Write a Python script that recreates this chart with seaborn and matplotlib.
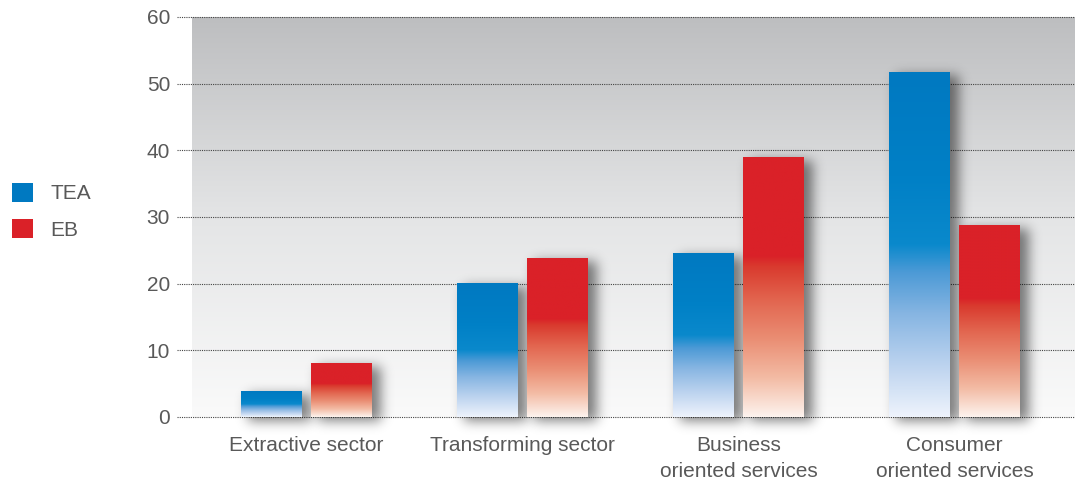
import math
import numpy as np
import pandas as pd
import seaborn as sns
import matplotlib.pyplot as plt
from matplotlib.colors import LinearSegmentedColormap
from matplotlib.patches import Patch

sns.set_theme(style="white")
plt.rcParams['font.family'] = ['Liberation Sans', 'DejaVu Sans']

# datos
sectors = ["Extractive sector", "Transforming sector",
           "Business\noriented services", "Consumer\noriented services"]
tea = [3.8, 20.0, 24.5, 51.7]
eb = [8.0, 23.8, 38.9, 28.7]
series = ["TEA", "EB"]

df = pd.DataFrame({
    "sector": sectors * 2,
    "serie": ["TEA"] * 4 + ["EB"] * 4,
    "valor": tea + eb,
})

txt = "#595959"
blue = "#0079c1"
red = "#da2128"

cmap_tea = LinearSegmentedColormap.from_list("tea", [
    (0.0, "#eef3fc"), (0.15, "#bcd3ef"), (0.3, "#86b5e2"),
    (0.42, "#4c9ad6"), (0.5, "#0a89cc"), (0.7, "#0080c6"), (1.0, blue)])
cmap_eb = LinearSegmentedColormap.from_list("eb", [
    (0.0, "#fdf3ee"), (0.15, "#f3bba4"), (0.3, "#ea8e74"),
    (0.45, "#e2654f"), (0.58, "#d93a2e"), (0.62, red), (1.0, red)])

fig = plt.figure(figsize=(10.75, 4.82), dpi=100)
ax = fig.add_axes([177 / 1075, 1 - 417 / 482, 898 / 1075, 400 / 482])

sns.barplot(data=df, x="sector", y="valor", hue="serie", order=sectors,
            hue_order=series, palette=[blue, red], width=0.655, gap=0.14,
            legend=False, ax=ax)

x0, x1 = -0.5995, 3.558

# fondo degradado
bg = np.linspace(0, 1, 256).reshape(-1, 1)
bg_cmap = LinearSegmentedColormap.from_list("bg", ["#fafafa", "#e4e5e6", "#bdbec0"])
ax.imshow(bg, extent=[-0.530, x1, 0, 60], origin="lower", aspect="auto",
          cmap=bg_cmap, zorder=0)

px = 1 / 216.0
py = 60 / 400.0
erf = np.vectorize(math.erf)


def caja(t, a, b, s):
    return 0.5 * (erf((t - a) / (s * 1.4142)) - erf((t - b) / (s * 1.4142)))


grad = np.linspace(0, 1, 256).reshape(-1, 1)
for i, p in enumerate(list(ax.patches)):
    x, w, h = p.get_x(), p.get_width(), p.get_height()
    if h <= 0:
        continue
    cm = cmap_tea if i < 4 else cmap_eb
    # sombra difusa (en pixeles)
    wp, hp = w / px, h / py
    m = 30
    tx = np.arange(-m, wp + m) + 0.5
    ty = np.arange(-m, hp + m) + 0.5
    sx = caja(tx, 7, wp + 9, 6)
    sy = caja(ty, -4, hp - 3, 6)
    a = np.outer(sy, sx) * 0.5
    img = np.zeros(a.shape + (4,))
    img[..., 3] = a
    ax.imshow(img, extent=[x - m * px, x + (wp + m) * px, -m * py, (hp + m) * py],
              origin="lower", aspect="auto", zorder=2.5, clip_on=False)
    p.set_visible(False)
    ax.imshow(grad, extent=[x, x + w, 0, h], origin="lower", aspect="auto",
              cmap=cm, zorder=3)

ax.set_xlim(x0, x1)
ax.set_ylim(0, 60)

ax.set_yticks(range(0, 61, 10))
for v in range(0, 61, 10):
    ax.axhline(v, color="#444444", lw=0.8, ls=(0, (1, 1)), zorder=2, clip_on=False)
ax.grid(False)
for s in ax.spines.values():
    s.set_visible(False)
ax.tick_params(axis="y", length=0, pad=5, labelsize=15, labelcolor=txt)
ax.tick_params(axis="x", length=0, pad=14, labelsize=15, labelcolor=txt)
for lab in ax.get_xticklabels():
    lab.set_linespacing(1.45)
ax.set_xlabel("")
ax.set_ylabel("")

handles = [Patch(facecolor=blue, edgecolor="none"), Patch(facecolor=red, edgecolor="none")]
fig.legend(handles, series, loc="upper left", bbox_to_anchor=(12 / 1075, 1 - 183 / 482),
           frameon=False, fontsize=15, handlelength=1.0, handleheight=1.0,
           handletextpad=0.85, labelspacing=0.75, borderpad=0, borderaxespad=0,
           labelcolor=txt)

fig.savefig("out.png", dpi=100)
